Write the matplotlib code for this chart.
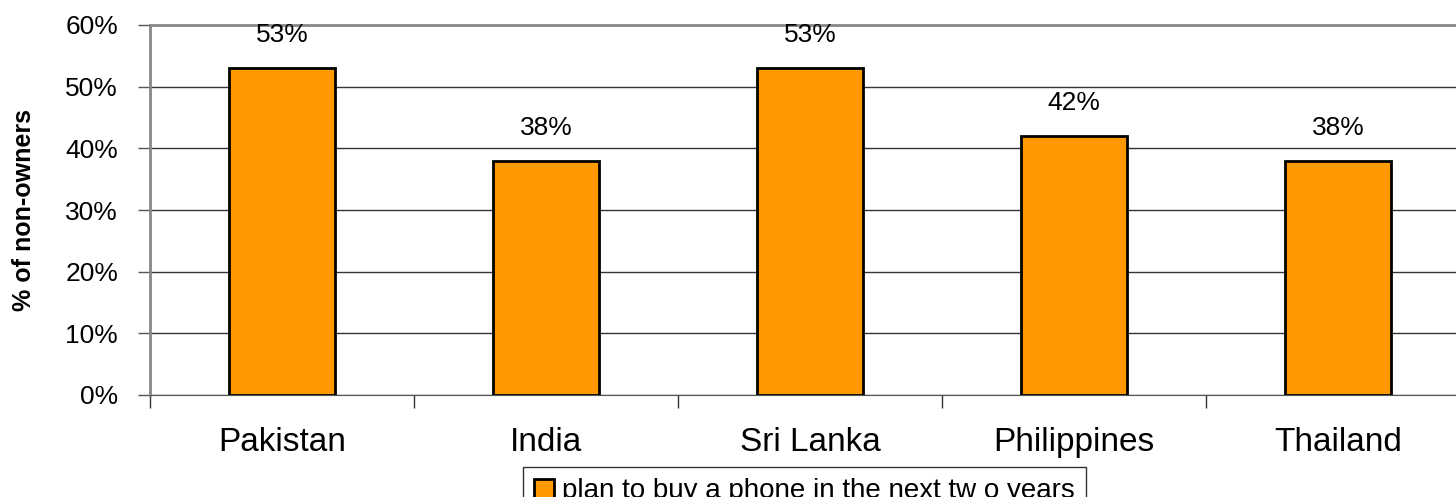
import numpy as np
from matplotlib import pyplot as plt
from matplotlib.ticker import PercentFormatter

# data
countries = ["Pakistan", "India", "Sri Lanka", "Philippines", "Thailand"]
plan_to_buy = [53, 38, 53, 42, 38]   # % of non-owners
series_name = "plan to buy a phone in the next tw o years"

plt.rcParams['font.family'] = ['Liberation Sans', 'DejaVu Sans']

W, H = 1456, 497
fig = plt.figure(figsize=(W/100, H/100), dpi=100)
# plot area: x 150..1470 px (runs past right edge), y 25..395 px
ax = fig.add_axes([150/W, 1 - 395/H, 1320/W, 370/H])

x = np.arange(len(countries))
bars = ax.bar(x, plan_to_buy, width=0.4, color='#FF9900', edgecolor='black',
              linewidth=2, zorder=3, label=series_name)

for xi, v in zip(x, plan_to_buy):
    ax.annotate(f"{v}%", (xi, v), xytext=(0, 15), textcoords='offset points',
                ha='center', va='bottom', fontsize=19)

ax.set_xlim(-0.5, len(countries) - 0.5)
ax.set_ylim(0, 60)
ax.set_yticks(np.arange(0, 61, 10))
ax.yaxis.set_major_formatter(PercentFormatter(decimals=0))
ax.tick_params(axis='y', labelsize=19, length=9, width=1, color='#555555', pad=14)

ax.set_xticks(x)
ax.set_xticklabels(countries, fontsize=24)
ax.set_xticks(np.arange(-0.5, len(countries)), minor=True)
ax.tick_params(axis='x', which='major', length=0, pad=23)
ax.tick_params(axis='x', which='minor', length=9, width=1, color='#333333')

ax.yaxis.grid(True, color='#333333', linewidth=1, zorder=0)
ax.set_axisbelow(True)

ax.spines['left'].set_color('#888888')
ax.spines['left'].set_linewidth(2)
ax.spines['top'].set_color('#888888')
ax.spines['top'].set_linewidth(2)
ax.spines['bottom'].set_color('#555555')
ax.spines['right'].set_visible(False)

ax.set_ylabel("% of non-owners", fontsize=18, fontweight='bold')
ax.yaxis.set_label_coords(-0.0864, 0.5)

fig.legend(loc='upper left', bbox_to_anchor=(523/W, 1 - 467/H), fontsize=20,
           frameon=True, fancybox=False, edgecolor='#333333', framealpha=1,
           handlelength=0.7, handleheight=0.7, handletextpad=0.3,
           borderpad=0.4, borderaxespad=0)

fig.savefig("out.png", dpi=100)
